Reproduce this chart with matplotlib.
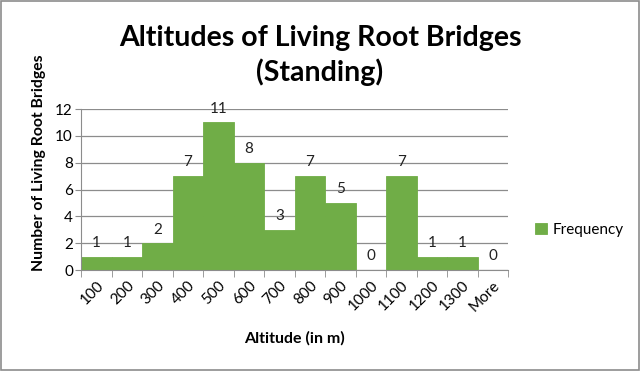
import matplotlib.pyplot as plt
from matplotlib.patches import Rectangle
import numpy as np

# dados do histograma
categorias = ['100', '200', '300', '400', '500', '600', '700', '800', '900',
              '1000', '1100', '1200', '1300', 'More']
frequencias = [1, 1, 2, 7, 11, 8, 3, 7, 5, 0, 7, 1, 1, 0]

plt.rcParams['font.family'] = ['Lato', 'DejaVu Sans']

fig = plt.figure(figsize=(6.4, 3.71), dpi=100)
ax = fig.add_axes([0.127, 0.272, 0.667, 0.434])

x = np.arange(len(categorias))
ax.bar(x, frequencias, width=1.0, color='#70ad47', edgecolor='#70ad47',
       linewidth=0.6, label='Frequency', zorder=2)

for i, v in enumerate(frequencias):
    ax.text(i, v + 0.5, str(v), ha='center', va='bottom', fontsize=11,
            color='#222222')

ax.set_xlim(-0.5, len(categorias) - 0.5)
ax.set_ylim(0, 12)
ax.set_yticks(range(0, 13, 2))
ax.yaxis.grid(True, color='#8c8c8c', linewidth=0.9, zorder=0)
ax.set_axisbelow(True)

ax.set_xticks(x)
ax.set_xticklabels(categorias, rotation=45, ha='right', rotation_mode='anchor',
                   fontsize=11)
ax.set_xticks(np.arange(-0.5, len(categorias), 1), minor=True)
ax.tick_params(axis='x', which='major', length=0, pad=6)
ax.tick_params(axis='x', which='minor', length=5, color='#8c8c8c')
ax.tick_params(axis='y', length=4, color='#8c8c8c', labelsize=11, pad=2)

for s in ['top', 'right']:
    ax.spines[s].set_visible(False)
for s in ['left', 'bottom']:
    ax.spines[s].set_color('#8c8c8c')

ax.set_xlabel('Altitude (in m)', fontsize=11.5, fontweight='bold', labelpad=12)
ax.set_ylabel('Number of Living Root Bridges', fontsize=11.3, fontweight='bold')
ax.yaxis.set_label_coords(-0.082, 0.67)

fig.text(0.5, 0.85, 'Altitudes of Living Root Bridges\n(Standing)',
         ha='center', va='center', fontsize=20.5, fontweight='bold',
         linespacing=1.3)

ax.legend(loc='center left', bbox_to_anchor=(1.03, 0.25), frameon=False,
          fontsize=11, handlelength=0.8, handleheight=0.8, handletextpad=0.4)

# borda da figura
fig.patches.append(Rectangle((0.001, 0.002), 0.997, 0.995, transform=fig.transFigure,
                             fill=False, edgecolor='#8c8c8c', linewidth=1.2))

plt.savefig('out.png', dpi=100)
